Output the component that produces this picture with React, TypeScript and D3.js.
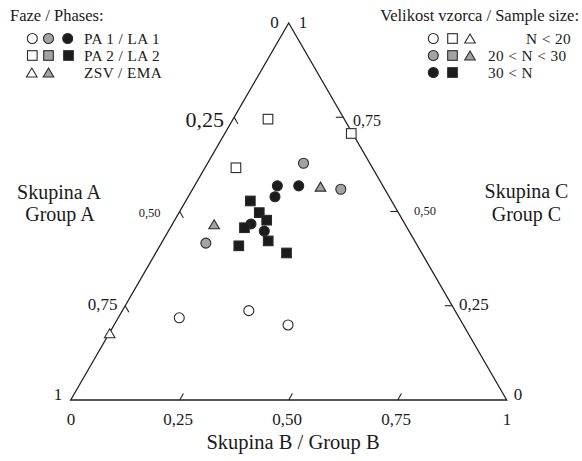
import React from "react";
import * as d3 from "d3";

// Ternary data: A = Skupina A (bottom-left), B = Skupina B (bottom-right), C = Skupina C (top)
const groupA = [0.175, 0.003, 0.313, 0.152, 0.242, 0.193, 0.144, 0.101, 0.262, 0.324, 0.319, 0.312, 0.353, 0.373, 0.332, 0.438, 0.336, 0.482, 0.41, 0.31, 0.642, 0.473, 0.402, 0.822];
const groupB = [0.08, 0.29, 0.071, 0.22, 0.19, 0.239, 0.29, 0.34, 0.199, 0.148, 0.184, 0.211, 0.18, 0.17, 0.22, 0.096, 0.242, 0.102, 0.181, 0.3, 0.14, 0.29, 0.399, 0.001];
const groupC = [0.745, 0.707, 0.616, 0.628, 0.568, 0.568, 0.566, 0.559, 0.539, 0.528, 0.497, 0.477, 0.467, 0.457, 0.448, 0.466, 0.422, 0.416, 0.409, 0.39, 0.218, 0.237, 0.199, 0.177];
// phase: 0 = PA 1 / LA 1 (circle), 1 = PA 2 / LA 2 (square), 2 = ZSV / EMA (triangle)
const phase = [1, 1, 1, 0, 0, 0, 2, 0, 0, 1, 1, 1, 0, 1, 0, 2, 1, 0, 1, 1, 0, 0, 0, 2];
// sample size: 0 = N<20 (open), 1 = 20<N<30 (grey), 2 = 30<N (black)
const sizeClass = [0, 0, 0, 1, 2, 2, 1, 1, 2, 2, 2, 2, 2, 2, 2, 1, 2, 1, 2, 2, 0, 0, 0, 0];

const tickValues = [0.25, 0.5, 0.75];
const tickLabels = ["0,25", "0,50", "0,75"];
const phaseLabels = ["PA 1 / LA 1", "PA 2 / LA 2", "ZSV / EMA"];
const sizeLabels = ["N < 20", "20 < N < 30", "30 < N"];

const fills = ["#ffffff", "#a3a3a3", "#1c1c1c"];
const FONT = "'Liberation Serif', 'DejaVu Serif', serif";

const xScale = d3.scaleLinear().domain([0, 1]).range([70.7, 506.7]);
const yScale = d3.scaleLinear().domain([0, 1]).range([400, 23]);

function proj(b: number, c: number): [number, number] {
  return [xScale(b + c / 2), yScale(c)];
}

function Marker({ shape, x, y, fill }: { shape: number; x: number; y: number; fill: string }) {
  const stroke = "#2a2a2a";
  if (shape === 0) return <circle cx={x} cy={y} r={5} fill={fill} stroke={stroke} strokeWidth={1.1} />;
  if (shape === 1) return <rect x={x - 4.8} y={y - 4.8} width={9.6} height={9.6} fill={fill} stroke={stroke} strokeWidth={1.1} />;
  const w = 10.6, h = 9;
  const p = `M${x - w / 2},${y + h / 2}L${x + w / 2},${y + h / 2}L${x},${y - h / 2}Z`;
  return <path d={p} fill={fill} stroke={stroke} strokeWidth={1.1} strokeLinejoin="miter" />;
}

export default function App() {
  const L = proj(0, 0), R = proj(1, 0), T = proj(0, 1);
  const d = 0.017;
  const lineProps = { stroke: "#222", strokeWidth: 1.3, fill: "none" };

  const bottomTicks = tickValues.map((t) => [proj(t, 0), proj(t, d)]);
  const leftTicks = tickValues.map((t) => [proj(0, 1 - t), proj(d, 1 - t - d)]);
  const rightTicks = tickValues.map((t) => [proj(1 - t, t), proj(1 - t - d, t)]);

  const points = groupA.map((a, i) => {
    const s = a + groupB[i] + groupC[i];
    const [x, y] = proj(groupB[i] / s, groupC[i] / s);
    return { x, y, shape: phase[i], fill: fills[sizeClass[i]] };
  });

  const leftLegendRows = [
    { shapes: [0, 0, 0], fills: [0, 1, 2], xs: [32.3, 48.5, 67.7] },
    { shapes: [1, 1, 1], fills: [0, 1, 2], xs: [32.3, 48.5, 68.5] },
    { shapes: [2, 2], fills: [0, 1], xs: [31.8, 48.5] },
  ];
  const rightLegendRows = [
    { shapes: [0, 1, 2], xs: [433.3, 452.5, 470] },
    { shapes: [0, 1, 2], xs: [433.3, 452.5, 470] },
    { shapes: [0, 1], xs: [433.3, 452.5] },
  ];
  const rowY = [38.5, 55.5, 72.5];
  const rowBase = [44, 61, 78];
  const LF = 15.3;

  const txt = { fontFamily: FONT, fill: "#1a1a1a" } as const;

  return (
    <svg width={582} height={461} style={{ position: "absolute", left: 0, top: 0, background: "#fff" }}>
      <rect width={582} height={461} fill="#fff" />
      <path d={`M${L[0]},${L[1]}L${R[0]},${R[1]}L${T[0]},${T[1]}Z`} {...lineProps} strokeLinejoin="miter" />
      {[...bottomTicks, ...leftTicks, ...rightTicks].map(([p, q], i) => (
        <line key={i} x1={p[0]} y1={p[1]} x2={q[0]} y2={q[1]} stroke="#222" strokeWidth={1.1} />
      ))}

      {/* vertex labels */}
      <text x={274.5} y={28} fontSize={17} textAnchor="middle" {...txt}>0</text>
      <text x={303} y={28} fontSize={17} textAnchor="middle" {...txt}>1</text>
      <text x={58} y={400} fontSize={17} textAnchor="middle" {...txt}>1</text>
      <text x={518} y={400} fontSize={17} textAnchor="middle" {...txt}>0</text>
      <text x={71} y={425} fontSize={17} textAnchor="middle" {...txt}>0</text>
      <text x={507} y={425} fontSize={17} textAnchor="middle" {...txt}>1</text>

      {/* bottom tick labels */}
      {tickValues.map((t, i) => (
        <text key={"b" + i} x={xScale(t) - 1.5} y={425} fontSize={17} textAnchor="middle" {...txt}>{tickLabels[i]}</text>
      ))}
      {/* left tick labels */}
      <text x={224} y={126.5} fontSize={22} textAnchor="end" {...txt}>{tickLabels[0]}</text>
      <text x={160.5} y={216.5} fontSize={12.5} textAnchor="end" {...txt}>{tickLabels[1]}</text>
      <text x={117.5} y={310} fontSize={17} textAnchor="end" {...txt}>{tickLabels[2]}</text>
      {/* right tick labels */}
      <text x={459} y={310} fontSize={17} textAnchor="start" {...txt}>{tickLabels[0]}</text>
      <text x={414} y={215} fontSize={12.5} textAnchor="start" {...txt}>{tickLabels[1]}</text>
      <text x={353} y={126} fontSize={16} textAnchor="start" {...txt}>{tickLabels[2]}</text>

      {/* axis titles */}
      <text x={59} y={199} fontSize={20} textAnchor="middle" {...txt}>Skupina A</text>
      <text x={60} y={221} fontSize={20} textAnchor="middle" {...txt}>Group A</text>
      <text x={526.5} y={198} fontSize={20} textAnchor="middle" {...txt}>Skupina C</text>
      <text x={526.5} y={221} fontSize={20} textAnchor="middle" {...txt}>Group C</text>
      <text x={293} y={449} fontSize={20.5} textAnchor="middle" {...txt}>Skupina B / Group B</text>

      {/* data points */}
      {points.map((p, i) => (
        <Marker key={i} shape={p.shape} x={p.x} y={p.y} fill={p.fill} />
      ))}

      {/* left legend */}
      <text x={10} y={21} fontSize={16.5} {...txt}>Faze / Phases:</text>
      {leftLegendRows.map((row, r) => (
        <g key={"ll" + r}>
          {row.shapes.map((s, k) => (
            <Marker key={k} shape={s} x={row.xs[k]} y={rowY[r]} fill={fills[row.fills[k]]} />
          ))}
          <text x={84} y={rowBase[r]} fontSize={LF} letterSpacing={0.4} {...txt}>{phaseLabels[r]}</text>
        </g>
      ))}

      {/* right legend */}
      <text x={579} y={21} fontSize={16.5} textAnchor="end" {...txt}>Velikost vzorca / Sample size:</text>
      {rightLegendRows.map((row, r) => (
        <g key={"rl" + r}>
          {row.shapes.map((s, k) => (
            <Marker key={k} shape={s} x={row.xs[k]} y={rowY[r]} fill={fills[r]} />
          ))}
          {r === 0 ? (
            <text x={571} y={rowBase[r]} fontSize={LF} textAnchor="end" letterSpacing={0.4} {...txt}>{sizeLabels[r]}</text>
          ) : (
            <text x={488} y={rowBase[r]} fontSize={LF} letterSpacing={0.4} {...txt}>{sizeLabels[r]}</text>
          )}
        </g>
      ))}
    </svg>
  );
}
